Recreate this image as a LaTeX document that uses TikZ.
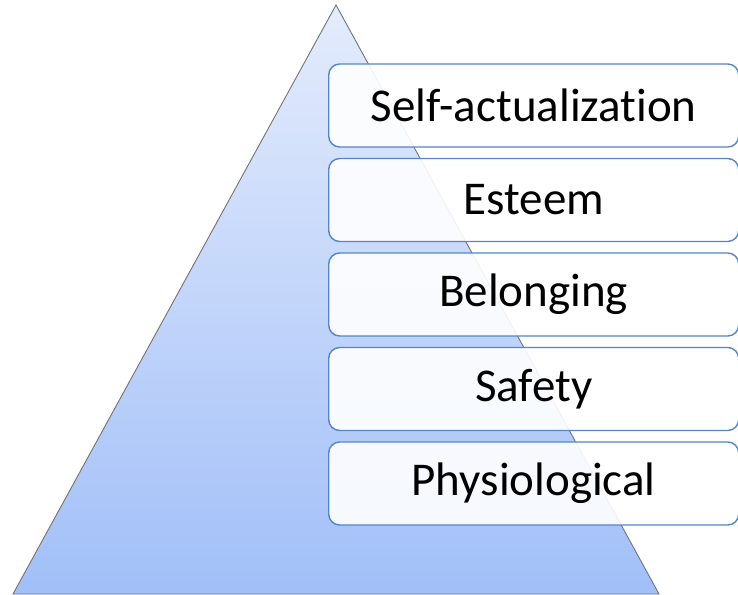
\documentclass[tikz,border=0pt]{standalone}
\usepackage{fontspec}
\setmainfont[Ligatures=NoCommon]{Carlito}
\begin{document}
\begin{tikzpicture}[x=1pt,y=1pt,
  level/.style={draw=boxblue, line width=1.4pt, fill=white, fill opacity=0.9, text opacity=1,
    rounded corners=11pt, minimum width=410pt, minimum height=83pt, inner sep=0pt,
    font=\fontsize{47}{50}\selectfont, anchor=west}]
\definecolor{boxblue}{HTML}{5585C4}
\definecolor{toptri}{HTML}{E4ECFC}
\definecolor{bottri}{HTML}{A1BFF8}
\useasboundingbox (0,0) rectangle (738,594);
\shade[top color=toptri, bottom color=bottri, draw=gray!90!black, line width=0.9pt]
  (13,0) -- (336,589) -- (659,0) -- cycle;
\node[level] (l1) at (328,488.5) {Self-actualization};
\node[level] (l2) at (328,394) {Esteem};
\node[level] (l3) at (328,299.5) {Belonging};
\node[level] (l4) at (328,205) {Safety};
\node[level] (l5) at (328,110.5) {Physiological};
\end{tikzpicture}
\end{document}
